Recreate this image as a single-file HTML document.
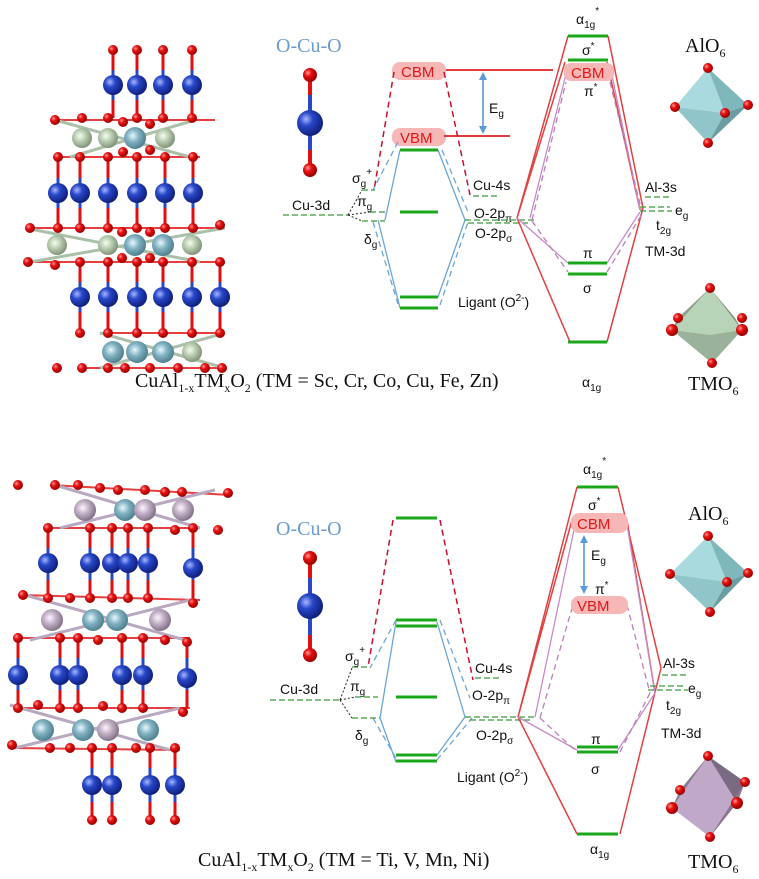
<!DOCTYPE html>
<html><head><meta charset="utf-8"><style>
html,body{margin:0;padding:0;background:#fff}
svg{display:block}
.s{font-family:"Liberation Sans",sans-serif;font-size:14px;fill:#111}
.r{font-family:"Liberation Serif",serif;font-size:20px;fill:#111}
.g{stroke:#1aa81a;stroke-width:3}
.gd{stroke:#3a9a3a;stroke-width:1.2;stroke-dasharray:6,3}
.rl{stroke:#e34040;stroke-width:1.5;fill:none}
.rd{stroke:#c8102e;stroke-width:1.5;stroke-dasharray:6,4;fill:none}
.bl{stroke:#6aa6d6;stroke-width:1.3;fill:none}
.bd{stroke:#6aa6d6;stroke-width:1.3;stroke-dasharray:6,4;fill:none}
.pl{stroke:#c88ac8;stroke-width:1.3;fill:none}
.pd{stroke:#b880b8;stroke-width:1.3;stroke-dasharray:6,4;fill:none}
.kd{stroke:#222;stroke-width:1;stroke-dasharray:2,2;fill:none}
.pill{fill:#f7b7b7}
.pt{font-family:"Liberation Sans",sans-serif;font-size:15px;fill:#e01818}
</style></head><body>
<svg width="759" height="879" viewBox="0 0 759 879" xmlns="http://www.w3.org/2000/svg">
<defs>
<radialGradient id="gO" cx="35%" cy="35%" r="65%"><stop offset="0" stop-color="#ff9a9a"/><stop offset=".4" stop-color="#e81010"/><stop offset="1" stop-color="#900"/></radialGradient>
<radialGradient id="gC" cx="35%" cy="35%" r="65%"><stop offset="0" stop-color="#a8b8ff"/><stop offset=".4" stop-color="#2848c8"/><stop offset="1" stop-color="#102080"/></radialGradient>
<radialGradient id="gA" cx="40%" cy="40%" r="65%"><stop offset="0" stop-color="#e8f8ff"/><stop offset=".45" stop-color="#7fb0c0"/><stop offset="1" stop-color="#4a7a8a"/></radialGradient>
<radialGradient id="gT" cx="40%" cy="40%" r="65%"><stop offset="0" stop-color="#f4fff0"/><stop offset=".45" stop-color="#b8ccb0"/><stop offset="1" stop-color="#7a8c72"/></radialGradient>
<radialGradient id="gP" cx="40%" cy="40%" r="65%"><stop offset="0" stop-color="#fff4ff"/><stop offset=".45" stop-color="#c0aec4"/><stop offset="1" stop-color="#7a6a80"/></radialGradient>
</defs>

<!-- ================= TOP CRYSTAL ================= -->
<g id="topcrys">
<g stroke="#2848c8" stroke-width="3">
<path d="M113 50V118M137 50V118M163 50V118M192 50V118"/>
<path d="M58 157V228M80 157V228M108 157V228M137 157V228M165 157V228M193 157V228"/>
<path d="M80 262V333M108 262V333M137 262V333M163 262V333M192 262V333M220 262V333"/>
</g>
<g stroke="#e01010" stroke-width="3">
<path d="M113 50V70M137 50V70M163 50V70M192 50V70M113 100V118M137 100V118M163 100V118M192 100V118"/>
<path d="M58 157V178M80 157V178M108 157V178M137 157V178M165 157V178M193 157V178M58 208V228M80 208V228M108 208V228M137 208V228M165 208V228M193 208V228"/>
<path d="M80 262V282M108 262V282M137 262V282M163 262V282M192 262V282M220 262V282M80 312V333M108 312V333M137 312V333M163 312V333M192 312V333M220 312V333"/>
<path d="M55 120L215 120M55 157L200 157M25 228L225 228M25 262L225 262M100 333L225 333M80 368L225 368" stroke-width="2" opacity=".8"/>
</g>
<g stroke="#aac0a8" stroke-width="3">
<path d="M55 120L190 157M70 157L195 120M25 228L200 262M30 262L225 228M100 333L225 368M100 368L225 333"/>
</g>
<g fill="url(#gO)">
<circle cx="113" cy="50" r="5"/><circle cx="137" cy="50" r="5"/><circle cx="163" cy="50" r="5"/><circle cx="192" cy="50" r="5"/>
<circle cx="55" cy="120" r="5"/><circle cx="82" cy="118" r="5"/><circle cx="108" cy="118" r="5"/><circle cx="137" cy="118" r="5"/><circle cx="163" cy="118" r="5"/><circle cx="192" cy="118" r="5"/><circle cx="123" cy="122" r="5"/><circle cx="150" cy="124" r="5"/>
<circle cx="58" cy="157" r="5"/><circle cx="80" cy="157" r="5"/><circle cx="108" cy="157" r="5"/><circle cx="137" cy="157" r="5"/><circle cx="165" cy="157" r="5"/><circle cx="193" cy="157" r="5"/><circle cx="123" cy="152" r="5"/><circle cx="150" cy="150" r="5"/>
<circle cx="30" cy="228" r="5"/><circle cx="58" cy="228" r="5"/><circle cx="80" cy="228" r="5"/><circle cx="108" cy="228" r="5"/><circle cx="137" cy="228" r="5"/><circle cx="165" cy="228" r="5"/><circle cx="193" cy="228" r="5"/><circle cx="220" cy="225" r="5"/><circle cx="122" cy="232" r="5"/><circle cx="150" cy="232" r="5"/>
<circle cx="28" cy="262" r="5"/><circle cx="55" cy="265" r="5"/><circle cx="80" cy="262" r="5"/><circle cx="108" cy="262" r="5"/><circle cx="137" cy="262" r="5"/><circle cx="163" cy="262" r="5"/><circle cx="192" cy="262" r="5"/><circle cx="220" cy="262" r="5"/><circle cx="122" cy="258" r="5"/><circle cx="150" cy="258" r="5"/>
<circle cx="80" cy="333" r="5"/><circle cx="108" cy="333" r="5"/><circle cx="137" cy="333" r="5"/><circle cx="163" cy="333" r="5"/><circle cx="192" cy="333" r="5"/><circle cx="220" cy="333" r="5"/>
<circle cx="57" cy="368" r="5"/><circle cx="82" cy="368" r="5"/><circle cx="108" cy="368" r="5"/><circle cx="125" cy="368" r="5"/><circle cx="150" cy="368" r="5"/><circle cx="178" cy="368" r="5"/><circle cx="205" cy="368" r="5"/><circle cx="222" cy="368" r="5"/>
</g>
<g fill="url(#gC)">
<circle cx="113" cy="85" r="10"/><circle cx="137" cy="85" r="10"/><circle cx="163" cy="85" r="10"/><circle cx="192" cy="85" r="10"/>
<circle cx="58" cy="193" r="10"/><circle cx="80" cy="193" r="10"/><circle cx="108" cy="193" r="10"/><circle cx="137" cy="193" r="10"/><circle cx="165" cy="193" r="10"/><circle cx="193" cy="193" r="10"/>
<circle cx="80" cy="297" r="10"/><circle cx="108" cy="297" r="10"/><circle cx="137" cy="297" r="10"/><circle cx="163" cy="297" r="10"/><circle cx="192" cy="297" r="10"/><circle cx="220" cy="297" r="10"/>
</g>
<circle cx="82" cy="138" r="10" fill="url(#gT)"/><circle cx="108" cy="138" r="10" fill="url(#gT)"/><circle cx="135" cy="138" r="11" fill="url(#gA)"/><circle cx="165" cy="138" r="10" fill="url(#gT)"/>
<circle cx="57" cy="245" r="10" fill="url(#gT)"/><circle cx="108" cy="245" r="10" fill="url(#gT)"/><circle cx="135" cy="245" r="11" fill="url(#gA)"/><circle cx="163" cy="245" r="11" fill="url(#gA)"/><circle cx="192" cy="245" r="10" fill="url(#gT)"/>
<circle cx="113" cy="352" r="11" fill="url(#gA)"/><circle cx="137" cy="352" r="11" fill="url(#gA)"/><circle cx="163" cy="352" r="11" fill="url(#gA)"/><circle cx="192" cy="352" r="10" fill="url(#gT)"/>
</g>

<text x="135" y="387" class="r">CuAl<tspan font-size="12" dy="5">1-x</tspan><tspan dy="-5">TM</tspan><tspan font-size="12" dy="5">x</tspan><tspan dy="-5">O</tspan><tspan font-size="12" dy="5">2</tspan><tspan dy="-5"> (TM = Sc, Cr, Co, Cu, Fe, Zn)</tspan></text>

<!-- ================= TOP DIAGRAM ================= -->
<text x="276" y="52" class="r" style="fill:#6a9ccf">O-Cu-O</text>
<path d="M310 75V170" stroke="#2848c8" stroke-width="4"/><path d="M310 75V95M310 150V170" stroke="#e01010" stroke-width="4"/>
<circle cx="310" cy="75" r="7" fill="url(#gO)"/><circle cx="310" cy="123" r="13" fill="url(#gC)"/><circle cx="310" cy="170" r="7" fill="url(#gO)"/>

<rect x="392" y="62" width="54" height="18" rx="8" class="pill"/><text x="401" y="77" class="pt">CBM</text>
<rect x="392" y="128" width="54" height="18" rx="8" class="pill"/><text x="400" y="143" class="pt">VBM</text>
<line x1="446" y1="70" x2="553" y2="70" stroke="#e02020" stroke-width="1.8"/>
<line x1="444" y1="136" x2="510" y2="136" stroke="#e02020" stroke-width="1.8"/>
<line x1="483" y1="76" x2="483" y2="130" stroke="#5a9ad6" stroke-width="1.6"/>
<path d="M479 80L483 72L487 80ZM479 126L483 134L487 126Z" fill="#5a9ad6"/>
<text x="489" y="113" class="s">E<tspan font-size="10" dy="4">g</tspan></text>

<path class="rd" d="M394 72L374 190M444 72L470 195"/>
<path class="bd" d="M398 142L373 190M442 150L468 212M373 222L398 304M440 305L468 222"/>
<path class="bl" d="M385 220L400 150M378 220L400 308M438 150L465 220M438 297L465 220"/>
<line x1="400" y1="150" x2="438" y2="150" class="g"/>
<line x1="400" y1="212" x2="438" y2="212" class="g"/>
<line x1="400" y1="297" x2="438" y2="297" class="g"/>
<line x1="400" y1="308" x2="438" y2="308" class="g"/>

<text x="292" y="210" class="s">Cu-3d</text>
<line x1="283" y1="215" x2="348" y2="215" class="gd"/>
<path class="kd" d="M348 215L362 190M348 215L370 212M348 215L362 221"/>
<line x1="362" y1="190" x2="375" y2="190" class="gd"/>
<line x1="370" y1="212" x2="385" y2="212" class="gd"/>
<line x1="362" y1="221" x2="385" y2="221" class="gd"/>
<text x="352" y="183" class="s">σ<tspan font-size="10" dy="4">g</tspan><tspan font-size="10" dy="-12">+</tspan></text>
<text x="357" y="206" class="s">π<tspan font-size="10" dy="4">g</tspan></text>
<text x="364" y="244" class="s">δ<tspan font-size="10" dy="4">g</tspan></text>

<text x="473" y="190" class="s">Cu-4s</text>
<line x1="473" y1="196" x2="498" y2="196" class="gd"/>
<text x="474" y="218" class="s">O-2p<tspan font-size="10" dy="4">π</tspan></text>
<text x="475" y="238" class="s">O-2p<tspan font-size="10" dy="4">σ</tspan></text>
<line x1="465" y1="220" x2="535" y2="220" class="gd"/>
<line x1="468" y1="223" x2="530" y2="223" class="gd"/>
<text x="458" y="307" class="s">Ligant (O<tspan font-size="10" dy="-6">2-</tspan><tspan dy="6">)</tspan></text>

<path class="rl" d="M517 218L568 36M517 218L565 62M517 218L570 342M608 36L643 208M607 342L643 208M607 62L640 210"/>
<path class="pl" d="M517 218L568 263M568 66L530 218M640 210L610 66M640 212L607 263"/>
<path class="pd" d="M532 220L566 82M532 221L568 272M610 82L642 212M607 272L642 214"/>
<line x1="568" y1="36" x2="608" y2="36" class="g"/>
<line x1="568" y1="60" x2="608" y2="60" class="g"/>
<rect x="564" y="63" width="50" height="18" rx="7" class="pill"/><text x="571" y="78" class="pt">CBM</text>
<line x1="568" y1="263" x2="607" y2="263" class="g"/>
<line x1="568" y1="274" x2="607" y2="274" class="g"/>
<line x1="568" y1="342" x2="607" y2="342" class="g"/>
<text x="576" y="24" class="s">α<tspan font-size="10" dy="4">1g</tspan><tspan font-size="10" dy="-14">*</tspan></text>
<text x="582" y="55" class="s">σ<tspan font-size="10" dy="-6">*</tspan></text>
<text x="584" y="96" class="s">π<tspan font-size="10" dy="-6">*</tspan></text>
<text x="583" y="258" class="s">π</text>
<text x="583" y="293" class="s">σ</text>
<text x="582" y="387" class="s">α<tspan font-size="10" dy="4">1g</tspan></text>

<text x="645" y="192" class="s">Al-3s</text>
<line x1="645" y1="197" x2="670" y2="197" class="gd"/>
<line x1="640" y1="207" x2="670" y2="207" class="gd"/>
<line x1="640" y1="211" x2="672" y2="211" class="gd"/>
<text x="675" y="215" class="s">e<tspan font-size="10" dy="4">g</tspan></text>
<text x="656" y="230" class="s">t<tspan font-size="10" dy="4">2g</tspan></text>
<text x="645" y="256" class="s">TM-3d</text>

<text x="685" y="52" class="r">AlO<tspan font-size="12" dy="5">6</tspan></text>
<g>
<path d="M708 68L675 107L725 113Z" fill="#a8dade"/><path d="M708 68L725 113L748 105Z" fill="#7fb8bc"/>
<path d="M675 107L708 143L725 113Z" fill="#90c6ca"/><path d="M725 113L708 143L748 105Z" fill="#6a9ea2"/>
<circle cx="708" cy="68" r="5" fill="url(#gO)"/><circle cx="675" cy="107" r="5" fill="url(#gO)"/><circle cx="748" cy="105" r="5" fill="url(#gO)"/><circle cx="725" cy="113" r="5" fill="url(#gO)"/><circle cx="708" cy="143" r="5" fill="url(#gO)"/>
</g>
<g>
<path d="M710 288L672 330L712 363L742 330Z" fill="#b8d4b8"/>
<path d="M710 288L742 330L735 318Z" fill="#7a907a"/><path d="M710 288L672 330L678 318Z" fill="#8aa08a"/>
<path d="M672 330L712 363L742 330L710 335Z" fill="#9ab29a"/>
<circle cx="710" cy="288" r="5" fill="url(#gO)"/><circle cx="678" cy="318" r="5" fill="url(#gO)"/><circle cx="742" cy="318" r="5" fill="url(#gO)"/><circle cx="672" cy="330" r="6" fill="url(#gO)"/><circle cx="742" cy="330" r="6" fill="url(#gO)"/><circle cx="712" cy="363" r="5" fill="url(#gO)"/>
</g>
<text x="688" y="390" class="r">TMO<tspan font-size="12" dy="5">6</tspan></text>

<!-- ================= BOTTOM CRYSTAL ================= -->
<g>
<g stroke="#2848c8" stroke-width="3">
<path d="M48 528V598M90 528V598M112 528V598M128 528V598M148 528V598M193 528V598"/>
<path d="M18 638V708M60 638V708M78 638V708M122 638V708M143 638V708M187 638V708"/>
<path d="M92 748V820M112 748V820M150 748V820M175 748V820"/>
</g>
<g stroke="#e01010" stroke-width="3">
<path d="M48 528V548M90 528V548M112 528V548M128 528V548M148 528V548M193 528V548M48 580V598M90 580V598M112 580V598M128 580V598M148 580V598M193 580V598"/>
<path d="M18 638V658M60 638V658M78 638V658M122 638V658M143 638V658M187 638V658M18 690V708M60 690V708M78 690V708M122 690V708M143 690V708M187 690V708"/>
<path d="M92 748V768M112 748V768M150 748V768M175 748V768M92 802V820M112 802V820M150 802V820M175 802V820"/>
<path d="M50 485L230 495M50 528L200 528M20 595L200 600M15 638L190 638M20 708L190 708M10 748L180 750" stroke-width="2" opacity=".8"/>
</g>
<g stroke="#b8a8c0" stroke-width="3"><path d="M55 485L200 528M60 528L215 490M25 595L185 640M30 640L190 600M10 705L170 750M15 748L180 708"/></g>
<g fill="url(#gO)">
<circle cx="18" cy="485" r="5"/><circle cx="55" cy="485" r="5"/><circle cx="78" cy="485" r="5"/><circle cx="100" cy="488" r="5"/><circle cx="118" cy="490" r="5"/><circle cx="145" cy="490" r="5"/><circle cx="165" cy="492" r="5"/><circle cx="182" cy="492" r="5"/><circle cx="228" cy="493" r="5"/>
<circle cx="48" cy="528" r="5"/><circle cx="90" cy="528" r="5"/><circle cx="112" cy="528" r="5"/><circle cx="128" cy="528" r="5"/><circle cx="148" cy="528" r="5"/><circle cx="193" cy="528" r="5"/><circle cx="175" cy="530" r="5"/><circle cx="218" cy="530" r="5"/>
<circle cx="23" cy="595" r="5"/><circle cx="48" cy="598" r="5"/><circle cx="70" cy="598" r="5"/><circle cx="90" cy="598" r="5"/><circle cx="112" cy="598" r="5"/><circle cx="128" cy="598" r="5"/><circle cx="148" cy="598" r="5"/><circle cx="193" cy="603" r="5"/>
<circle cx="18" cy="638" r="5"/><circle cx="60" cy="638" r="5"/><circle cx="78" cy="638" r="5"/><circle cx="98" cy="640" r="5"/><circle cx="122" cy="638" r="5"/><circle cx="143" cy="638" r="5"/><circle cx="165" cy="640" r="5"/><circle cx="187" cy="642" r="5"/>
<circle cx="18" cy="708" r="5"/><circle cx="38" cy="705" r="5"/><circle cx="60" cy="708" r="5"/><circle cx="78" cy="708" r="5"/><circle cx="103" cy="706" r="5"/><circle cx="122" cy="708" r="5"/><circle cx="143" cy="708" r="5"/><circle cx="183" cy="712" r="5"/>
<circle cx="12" cy="745" r="5"/><circle cx="50" cy="748" r="5"/><circle cx="70" cy="748" r="5"/><circle cx="92" cy="748" r="5"/><circle cx="112" cy="748" r="5"/><circle cx="136" cy="748" r="5"/><circle cx="150" cy="748" r="5"/><circle cx="175" cy="748" r="5"/>
<circle cx="92" cy="820" r="5"/><circle cx="112" cy="820" r="5"/><circle cx="150" cy="820" r="5"/><circle cx="175" cy="820" r="5"/>
</g>
<g fill="url(#gC)">
<circle cx="48" cy="563" r="10"/><circle cx="90" cy="563" r="10"/><circle cx="112" cy="563" r="10"/><circle cx="128" cy="563" r="10"/><circle cx="148" cy="563" r="10"/><circle cx="193" cy="568" r="10"/>
<circle cx="18" cy="675" r="10"/><circle cx="60" cy="675" r="10"/><circle cx="78" cy="675" r="10"/><circle cx="122" cy="675" r="10"/><circle cx="143" cy="675" r="10"/><circle cx="187" cy="678" r="10"/>
<circle cx="92" cy="785" r="10"/><circle cx="112" cy="785" r="10"/><circle cx="150" cy="785" r="10"/><circle cx="175" cy="785" r="10"/>
</g>
<circle cx="85" cy="510" r="11" fill="url(#gP)"/><circle cx="125" cy="510" r="11" fill="url(#gA)"/><circle cx="145" cy="510" r="11" fill="url(#gP)"/><circle cx="183" cy="510" r="11" fill="url(#gP)"/>
<circle cx="52" cy="620" r="11" fill="url(#gP)"/><circle cx="93" cy="620" r="11" fill="url(#gA)"/><circle cx="117" cy="620" r="11" fill="url(#gA)"/><circle cx="160" cy="620" r="11" fill="url(#gP)"/>
<circle cx="43" cy="730" r="11" fill="url(#gA)"/><circle cx="83" cy="730" r="11" fill="url(#gA)"/><circle cx="108" cy="730" r="11" fill="url(#gP)"/><circle cx="148" cy="730" r="11" fill="url(#gA)"/>
</g>

<text x="198" y="866" class="r">CuAl<tspan font-size="12" dy="5">1-x</tspan><tspan dy="-5">TM</tspan><tspan font-size="12" dy="5">x</tspan><tspan dy="-5">O</tspan><tspan font-size="12" dy="5">2</tspan><tspan dy="-5"> (TM = Ti, V, Mn, Ni)</tspan></text>

<!-- ================= BOTTOM DIAGRAM ================= -->
<text x="276" y="535" class="r" style="fill:#6a9ccf">O-Cu-O</text>
<path d="M310 558V655" stroke="#2848c8" stroke-width="4"/><path d="M310 558V578M310 635V655" stroke="#e01010" stroke-width="4"/>
<circle cx="310" cy="558" r="7" fill="url(#gO)"/><circle cx="310" cy="606" r="13" fill="url(#gC)"/><circle cx="310" cy="655" r="7" fill="url(#gO)"/>

<path class="rd" d="M393 520L368 667M440 520L473 680"/>
<path class="bd" d="M396 620L370 668M440 620L470 698M373 718L397 760M437 760L472 718"/>
<path class="bl" d="M380 718L396 622M380 718L396 762M437 622L465 717M437 755L465 717"/>
<line x1="396" y1="518" x2="437" y2="518" class="g"/>
<line x1="396" y1="620" x2="437" y2="620" class="g"/>
<line x1="396" y1="626" x2="437" y2="626" class="g"/>
<line x1="396" y1="697" x2="437" y2="697" class="g"/>
<line x1="396" y1="755" x2="437" y2="755" class="g"/>
<line x1="396" y1="761" x2="437" y2="761" class="g"/>

<text x="280" y="694" class="s">Cu-3d</text>
<line x1="270" y1="700" x2="340" y2="700" class="gd"/>
<path class="kd" d="M340 700L352 668M340 700L355 697M340 700L352 718"/>
<line x1="352" y1="667" x2="368" y2="667" class="gd"/>
<line x1="355" y1="697" x2="378" y2="697" class="gd"/>
<line x1="352" y1="718" x2="380" y2="718" class="gd"/>
<text x="345" y="661" class="s">σ<tspan font-size="10" dy="4">g</tspan><tspan font-size="10" dy="-12">+</tspan></text>
<text x="350" y="691" class="s">π<tspan font-size="10" dy="4">g</tspan></text>
<text x="355" y="740" class="s">δ<tspan font-size="10" dy="4">g</tspan></text>

<text x="475" y="673" class="s">Cu-4s</text>
<line x1="475" y1="678" x2="500" y2="678" class="gd"/>
<text x="472" y="700" class="s">O-2p<tspan font-size="10" dy="4">π</tspan></text>
<text x="476" y="740" class="s">O-2p<tspan font-size="10" dy="4">σ</tspan></text>
<line x1="465" y1="717" x2="535" y2="717" class="gd"/>
<line x1="470" y1="720" x2="530" y2="720" class="gd"/>
<text x="457" y="782" class="s">Ligant (O<tspan font-size="10" dy="-6">2-</tspan><tspan dy="6">)</tspan></text>

<path class="rl" d="M518 717L577 487M518 717L572 520M518 717L577 834M618 487L661 668M620 834L661 668M627 520L655 693"/>
<path class="pl" d="M518 717L577 750M575 525L535 717M627 525L655 693M655 693L618 750"/>
<path class="pd" d="M540 718L573 605M540 718L577 752M627 605L650 693M650 693L620 752"/>
<line x1="577" y1="487" x2="618" y2="487" class="g"/>
<rect x="571" y="513" width="57" height="20" rx="8" class="pill"/><text x="577" y="529" class="pt">CBM</text>
<rect x="571" y="596" width="57" height="18" rx="8" class="pill"/><text x="577" y="611" class="pt">VBM</text>
<line x1="584" y1="539" x2="584" y2="590" stroke="#5a9ad6" stroke-width="1.6"/>
<path d="M580 543L584 535L588 543ZM580 586L584 594L588 586Z" fill="#5a9ad6"/>
<text x="591" y="560" class="s">E<tspan font-size="10" dy="4">g</tspan></text>
<text x="595" y="594" class="s">π<tspan font-size="10" dy="-6">*</tspan></text>
<line x1="577" y1="747" x2="618" y2="747" class="g"/>
<line x1="577" y1="752" x2="618" y2="752" class="g"/>
<line x1="577" y1="834" x2="618" y2="834" class="g"/>
<text x="583" y="474" class="s">α<tspan font-size="10" dy="4">1g</tspan><tspan font-size="10" dy="-14">*</tspan></text>
<text x="588" y="510" class="s">σ<tspan font-size="10" dy="-6">*</tspan></text>
<text x="591" y="744" class="s">π</text>
<text x="591" y="774" class="s">σ</text>
<text x="590" y="854" class="s">α<tspan font-size="10" dy="4">1g</tspan></text>

<text x="663" y="668" class="s">Al-3s</text>
<line x1="662" y1="675" x2="688" y2="675" class="gd"/>
<line x1="650" y1="686" x2="685" y2="686" class="gd"/>
<line x1="648" y1="690" x2="688" y2="690" class="gd"/>
<text x="688" y="693" class="s">e<tspan font-size="10" dy="4">g</tspan></text>
<text x="666" y="710" class="s">t<tspan font-size="10" dy="4">2g</tspan></text>
<text x="661" y="738" class="s">TM-3d</text>

<text x="688" y="520" class="r">AlO<tspan font-size="12" dy="5">6</tspan></text>
<g transform="translate(0,8)">
<path d="M708 528L670 566L727 574Z" fill="#a8dade"/><path d="M708 528L727 574L748 565Z" fill="#7fb8bc"/>
<path d="M670 566L710 604L727 574Z" fill="#90c6ca"/><path d="M727 574L710 604L748 565Z" fill="#6a9ea2"/>
<circle cx="708" cy="528" r="5" fill="url(#gO)"/><circle cx="670" cy="566" r="5" fill="url(#gO)"/><circle cx="748" cy="565" r="5" fill="url(#gO)"/><circle cx="727" cy="574" r="5" fill="url(#gO)"/><circle cx="710" cy="604" r="5" fill="url(#gO)"/>
</g>
<g>
<path d="M708 756L672 808L710 837L737 803Z" fill="#c0a8c8"/>
<path d="M708 756L737 803L745 782Z" fill="#7a6a82"/><path d="M708 756L672 808L680 790Z" fill="#8a7a92"/>
<path d="M737 803L710 837L745 782Z" fill="#8a7890"/>
<circle cx="708" cy="756" r="5" fill="url(#gO)"/><circle cx="680" cy="790" r="5" fill="url(#gO)"/><circle cx="745" cy="782" r="5" fill="url(#gO)"/><circle cx="672" cy="808" r="6" fill="url(#gO)"/><circle cx="737" cy="803" r="6" fill="url(#gO)"/><circle cx="710" cy="837" r="5" fill="url(#gO)"/>
</g>
<text x="688" y="868" class="r">TMO<tspan font-size="12" dy="5">6</tspan></text>
</svg>
</body></html>
